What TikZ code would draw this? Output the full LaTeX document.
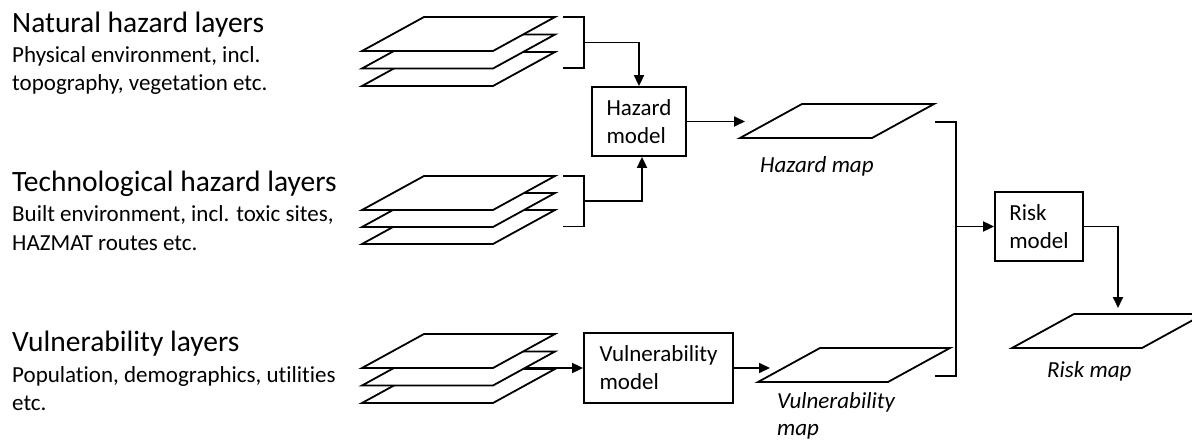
\documentclass[tikz,border=0pt]{standalone}
\usepackage{fontspec}
\setmainfont{Carlito}[Ligatures={NoCommon}]
\usetikzlibrary{arrows.meta}
\tikzset{
  ln/.style={line width=1.8pt},
  sheetline/.style={ln, fill=white, line join=miter},
  arr/.style={ln, -{Triangle[length=11pt,width=10pt]}},
  modelbox/.style={draw, ln, inner sep=0pt, align=left, font=\fontsize{23}{28}\selectfont},
  titletext/.style={anchor=base west, inner sep=0pt, font=\fontsize{29.5}{35}\selectfont},
  subtext/.style={anchor=base west, inner sep=0pt, font=\fontsize{23}{28}\selectfont},
  maplabel/.style={anchor=base west, inner sep=0pt, font=\fontsize{23}{28}\selectfont\itshape},
}
% name, x, y of bottom-left corner, width
\newcommand\laysheet[4]{%
  \draw[sheetline] (#2,#3) coordinate (#1-bl) -- ++(#4,0) coordinate (#1-br)
    -- ++(62,-34) coordinate (#1-tr) -- ++(-#4,0) coordinate (#1-tl) -- cycle;}
\begin{document}
\begin{tikzpicture}[x=1pt,y=-1pt]
\clip (0,0) rectangle (1192,441);
\fill[white] (0,0) rectangle (1192,441);

% left texts
\node[titletext] (t1) at (12,33) {Natural hazard layers};
\node[subtext] (s1a) at (12,63) {Physical environment, incl.};
\node[subtext] (s1b) at (12,91) {topography, vegetation etc.};
\node[titletext] (t2) at (12,192) {Technological hazard layers};
\node[subtext] (s2a) at (12,222) {Built environment, incl. toxic sites,};
\node[subtext] (s2b) at (12,250) {HAZMAT routes etc.};
\node[titletext] (t3) at (12,351) {Vulnerability layers};
\node[subtext] (s3a) at (12,382) {Population, demographics, utilities};
\node[subtext] (s3b) at (12,410) {etc.};

% layer stacks
\laysheet{na3}{362}{86}{131}
\laysheet{na2}{362}{68.5}{131}
\laysheet{na1}{362}{51}{131}
\laysheet{te3}{362}{244}{131}
\laysheet{te2}{362}{227}{131}
\laysheet{te1}{362}{210}{131}
\laysheet{vu3}{362}{403}{131}
\laysheet{vu2}{362}{385.5}{131}
\laysheet{vu1}{362}{368}{131}

% maps
\laysheet{hm}{740}{138}{132}
\laysheet{vmap}{758}{382}{130}
\laysheet{rm}{1012}{348}{130}
\node[maplabel] (hml) at (760,173) {Hazard map};
\node[maplabel] (vml1) at (777,408) {Vulnerability};
\node[maplabel] (vml2) at (777,435) {map};
\node[maplabel] (rml) at (1047,377) {Risk map};

% models
\node[modelbox, minimum width=94pt, minimum height=69pt] (hz) at (639,121.5) {Hazard\\model};
\node[modelbox, minimum width=149pt, minimum height=70pt] (vm) at (658.5,368) {Vulnerability\\model};
\node[modelbox, minimum width=88pt, minimum height=69pt] (risk) at (1039,226.5) {Risk\\model};

% brackets
\coordinate (nbt) at (563,17);   \coordinate (nbb) at (563,68);
\coordinate (nbm) at (584,42.5);
\draw[ln] (nbt) -- (584,17) -- (584,68) -- (nbb);
\draw[arr] (nbm) -| (hz.north);

\coordinate (tbt) at (563,176);  \coordinate (tbb) at (563,226.5);
\coordinate (tbm) at (584,201);
\draw[ln] (tbt) -- (584,176) -- (584,226.5) -- (tbb);
\draw[arr] (tbm) -| ([xshift=3pt]hz.south);

\coordinate (hmin) at (745,121.5);
\draw[arr] (hz.east) -- (hmin);

\coordinate (vsout) at (525,368);
\draw[arr] (vsout) -- (vm.west);
\coordinate (vmin) at (770,368);
\draw[arr] (vm.east) -- (vmin);

\coordinate (rbt) at (935,122);  \coordinate (rbb) at (935,376);
\coordinate (rbm) at (956,226.5);
\draw[ln] (rbt) -- (956,122) -- (956,376) -- (rbb);
\draw[arr] (rbm) -- (risk.west);

\coordinate (rmin) at (1118,308);
\draw[arr] (risk.east) -| (rmin);
\end{tikzpicture}
\end{document}
